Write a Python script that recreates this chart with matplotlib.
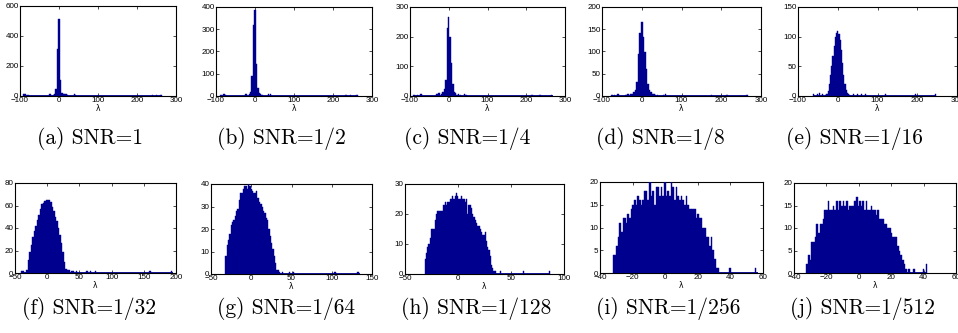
import matplotlib.pyplot as plt
import numpy as np

W, H = 958, 333
BLUE = '#00008f'

# ---- data: each panel = dense bulk of bins + a few isolated outlier bins ----
# (a) SNR=1
a_start, a_width = -14.4, 3.6
a_counts = [5, 15, 45, 310, 515, 105, 20, 15, 15, 15, 5]
a_out_x = [-90, -86, -79, -25, -22, 40, 43, 240, 250, 262]
a_out_y = [10, 10, 8, 15, 10, 15, 8, 8, 8, 8]
a_range = (-92, 265)

# (b) SNR=1/2
b_start, b_width = -14.4, 3.6
b_counts = [10, 20, 90, 320, 385, 142, 35, 15, 10, 5]
b_out_x = [-87, -80, -77, -25, -22, 35, 40, 233, 245, 262]
b_out_y = [5, 10, 5, 10, 8, 10, 10, 5, 5, 5]
b_range = (-90, 265)

# (c) SNR=1/4
c_start, c_width = -18.0, 3.6
c_counts = [8, 15, 25, 55, 230, 265, 200, 110, 40, 15, 10, 5]
c_out_x = [-90, -80, -72, -30, -25, 25, 30, 40, 45, 215, 235, 265]
c_out_y = [3, 5, 8, 8, 10, 8, 5, 8, 5, 5, 5, 5]
c_range = (-92, 268)

# (d) SNR=1/8
d_start, d_width = -26.6, 3.8
d_counts = [5, 5, 8, 13, 31, 95, 142, 166, 133, 99, 61, 28, 13, 8, 5, 5, 3]
d_out_x = [-75, -68, -60, -40, -35, 40, 55, 60, 175, 215, 265]
d_out_y = [3, 3, 5, 3, 5, 3, 3, 5, 3, 3, 3]
d_range = (-78, 268)

# (e) SNR=1/16
e_start, e_width = -30.0, 3.0
e_counts = [2, 3, 8, 20, 35, 50, 68, 85, 100, 107, 110, 105, 95, 78, 55, 35,
            20, 10, 5, 3, 2]
e_out_x = [-60, -50, -45, -38, 40, 50, 60, 70, 120, 195, 245]
e_out_y = [3, 3, 5, 3, 3, 3, 3, 3, 3, 3, 3]
e_range = (-62, 248)

# (f) SNR=1/32
f_start, f_width = -38.8, 2.35
f_counts = [2, 2, 0, 3, 12, 19, 25, 32, 37, 42, 47, 52, 57, 61, 62, 64, 65, 65,
            65, 63, 59, 55, 50, 46, 40, 34, 27, 19, 10, 4, 3, 3, 0, 2, 2, 0, 2]
f_out_x = [62, 67, 75, 160, 193]
f_out_y = [2, 2, 2, 2, 2]
f_range = (-40, 195)

# (g) SNR=1/64
g_start, g_width = -31.5, 1.67
g_counts = [8, 13, 15, 18, 22, 23, 24, 26, 28, 29, 33, 36, 36, 38, 39, 39, 38,
            40, 39, 38, 37, 36, 36, 37, 34, 32, 31, 30, 28, 27, 25, 24, 20, 17,
            14, 11, 8, 5, 2, 2, 1, 0, 1]
g_out_x = [47.7, 52.7, 104, 132.6]
g_out_y = [1, 1, 1, 1]
g_range = (-32, 135)

# (h) SNR=1/128
h_start, h_width = -31.0, 1.18
h_counts = [5, 7, 9, 10, 12, 15, 15, 15, 18, 20, 21, 21, 21, 21, 21, 23, 24, 23,
            24, 24, 25, 25, 26, 25, 26, 27, 26, 25, 25, 26, 25, 25, 24, 25, 20,
            23, 23, 22, 20, 19, 18, 17, 16, 16, 15, 14, 13, 13, 14, 11, 9, 8, 6,
            3, 2, 1, 1]
h_out_x = [40, 62, 86.5]
h_out_y = [1, 1, 1]
h_range = (-31, 87)

# (i) SNR=1/256
i_start, i_width = -31.8, 1.02
i_counts = [4, 4, 6, 8, 11, 9, 12, 12, 11, 13, 12, 14, 15, 16, 15, 17, 16, 15,
            16, 18, 18, 16, 20, 17, 18, 15, 19, 19, 17, 19, 17, 20, 17, 18, 17,
            20, 19, 16, 19, 17, 16, 17, 16, 15, 17, 15, 14, 14, 14, 14, 12, 13,
            12, 12, 10, 10, 8, 8, 6, 8, 5, 3, 1, 1]
i_out_x = [39.6, 55.3]
i_out_y = [1, 1]
i_range = (-32, 57)

# (j) SNR=1/512
j_start, j_width = -31.9, 1.02
j_counts = [2, 4, 3, 7, 7, 8, 11, 9, 11, 11, 12, 14, 14, 16, 14, 14, 15, 14,
            16, 14, 16, 15, 16, 15, 16, 14, 15, 15, 15, 16, 17, 15, 16, 15, 16,
            14, 16, 14, 14, 15, 14, 14, 13, 14, 12, 12, 12, 11, 11, 10, 10, 9, 8,
            8, 8, 6, 5, 4, 3, 2, 1]
j_out_x = [31.1, 34.2, 40, 41.7]
j_out_y = [1, 1, 1, 2]
j_range = (-32, 42)

captions = ['(a) SNR=1', '(b) SNR=1/2', '(c) SNR=1/4', '(d) SNR=1/8',
            '(e) SNR=1/16', '(f) SNR=1/32', '(g) SNR=1/64', '(h) SNR=1/128',
            '(i) SNR=1/256', '(j) SNR=1/512']

top_xticks = [-100, 0, 100, 200, 300]
xticks = [top_xticks] * 5 + [[-50, 0, 50, 100, 150, 200], [-50, 0, 50, 100, 150],
                             [-50, 0, 50, 100], [-40, -20, 0, 20, 40, 60],
                             [-40, -20, 0, 20, 40, 60]]
yticks = [[0, 200, 400, 600], [0, 100, 200, 300, 400], [0, 100, 200, 300],
          [0, 50, 100, 150, 200], [0, 50, 100, 150], [0, 20, 40, 60, 80],
          [0, 10, 20, 30, 40], [0, 10, 20, 30], [0, 5, 10, 15, 20],
          [0, 5, 10, 15, 20]]

panels = [
    (a_start, a_width, a_counts, a_out_x, a_out_y, a_range),
    (b_start, b_width, b_counts, b_out_x, b_out_y, b_range),
    (c_start, c_width, c_counts, c_out_x, c_out_y, c_range),
    (d_start, d_width, d_counts, d_out_x, d_out_y, d_range),
    (e_start, e_width, e_counts, e_out_x, e_out_y, e_range),
    (f_start, f_width, f_counts, f_out_x, f_out_y, f_range),
    (g_start, g_width, g_counts, g_out_x, g_out_y, g_range),
    (h_start, h_width, h_counts, h_out_x, h_out_y, h_range),
    (i_start, i_width, i_counts, i_out_x, i_out_y, i_range),
    (j_start, j_width, j_counts, j_out_x, j_out_y, j_range),
]

# axes boxes in pixels: left, right, top, bottom
boxes = [(20, 176, 6, 96), (216, 372, 7, 96), (410, 565, 7, 96),
         (602, 761, 7, 96), (798, 957, 7, 96),
         (15, 176, 183, 273), (211, 372, 184, 274), (405, 564, 184, 274),
         (600, 763, 182, 273), (794, 956, 183, 273)]
cap_x = [90, 281, 467, 660, 854, 89, 286, 476, 668, 862]
cap_y = [138, 138, 138, 138, 138, 309, 309, 309, 309, 309]

fig = plt.figure(figsize=(W / 100, H / 100), dpi=100)

for k, (start, width, counts, ox, oy, rng) in enumerate(panels):
    l, r, t, b = boxes[k]
    ax = fig.add_axes([l / W, 1 - b / H, (r - l) / W, (b - t) / H])
    centers = start + width * np.arange(len(counts))
    ax.hlines(0, rng[0], rng[1], color=BLUE, lw=1.3, zorder=2)
    ax.bar(centers, counts, width=width, color=BLUE, edgecolor=BLUE,
           linewidth=0.3, zorder=3)
    ax.bar(ox, oy, width=width, color=BLUE, edgecolor=BLUE,
           linewidth=0.3, zorder=3)
    xt, yt = xticks[k], yticks[k]
    ax.set_xlim(xt[0], xt[-1])
    ax.set_ylim(yt[0], yt[-1])
    ax.set_xticks(xt)
    ax.set_yticks(yt)
    ax.tick_params(direction='in', length=2, width=0.5, labelsize=5.8,
                   top=True, right=True, pad=1)
    for lab in ax.get_xticklabels() + ax.get_yticklabels():
        lab.set_family('Liberation Sans')
    ax.set_xlabel('λ', fontsize=5.5, labelpad=0)
    for s in ax.spines.values():
        s.set_linewidth(0.8)
    fig.text(cap_x[k] / W, 1 - cap_y[k] / H, captions[k], family='cmr10',
             fontsize=15.5, ha='center', va='center')

fig.savefig('out.png', dpi=100)
